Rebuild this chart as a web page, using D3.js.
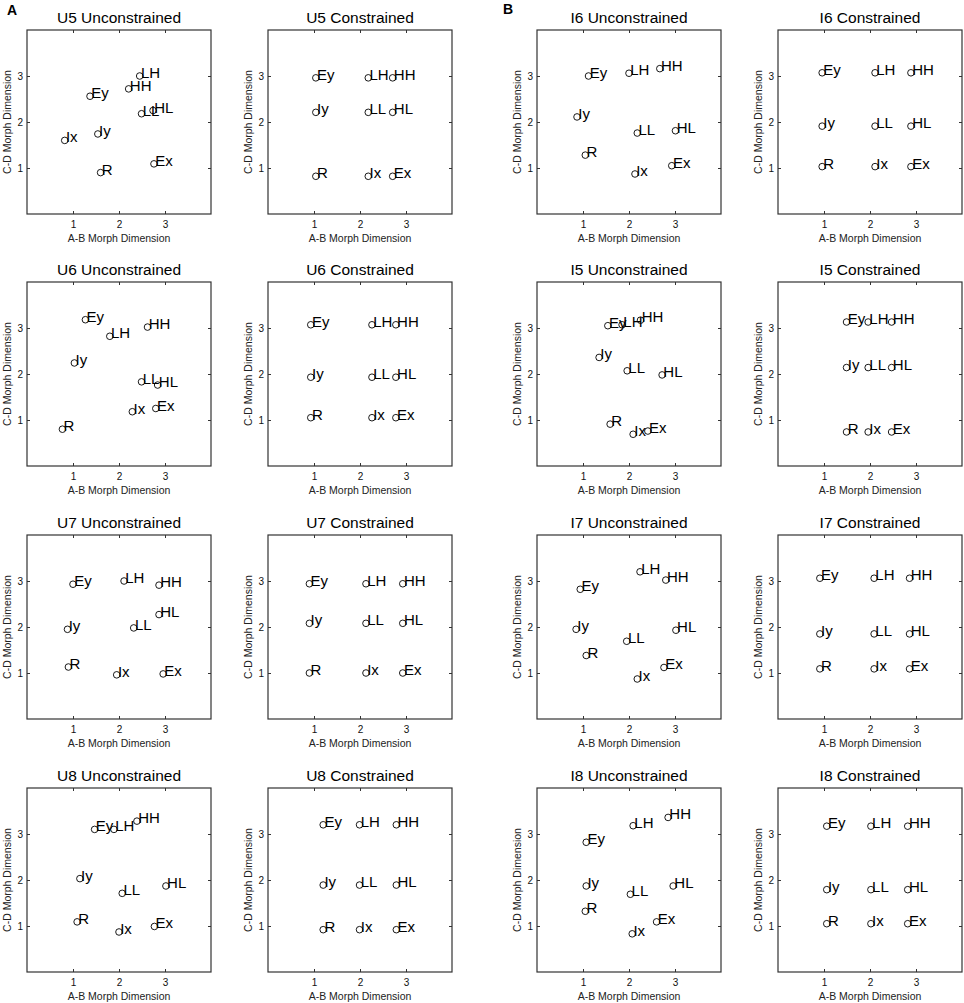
<!doctype html>
<html>
<head>
  <title>Morph Dimension MDS</title>
  <script src="https://d3js.org/d3.v7.min.js" charset="utf-8"></script>
  <style>
    body { margin: 0; background: #fff; }
    text { font-family: "Liberation Sans", Arial, sans-serif; }
  </style>
</head>
<body>
<svg width="964" height="1003"></svg>
<script>
// point labels, same order in every x/y array below
var pointLabels = ["Ey", "LH", "HH", "Iy", "LL", "HL", "R", "Ix", "Ex"];

// panel titles, row by row (left block A, right block B)
var panelTitles = [
  "U5 Unconstrained", "U5 Constrained", "I6 Unconstrained", "I6 Constrained",
  "U6 Unconstrained", "U6 Constrained", "I5 Unconstrained", "I5 Constrained",
  "U7 Unconstrained", "U7 Constrained", "I7 Unconstrained", "I7 Constrained",
  "U8 Unconstrained", "U8 Constrained", "I8 Unconstrained", "I8 Constrained"
];

var tickValues = [1, 2, 3];
var axisDomain = [0, 4];

// A-B coordinates
var u5UncX = [1.37, 2.45, 2.21, 1.54, 2.49, 2.74, 1.60, 0.82, 2.76];
var u5ConX = [1.04, 2.18, 2.71, 1.04, 2.18, 2.71, 1.04, 2.18, 2.71];
var i6UncX = [1.12, 2.00, 2.67, 0.87, 2.18, 3.01, 1.05, 2.13, 2.93];
var i6ConX = [0.96, 2.11, 2.89, 0.96, 2.11, 2.89, 0.96, 2.11, 2.89];
var u6UncX = [1.27, 1.80, 2.62, 1.03, 2.49, 2.84, 0.77, 2.29, 2.80];
var u6ConX = [0.93, 2.26, 2.78, 0.93, 2.26, 2.78, 0.93, 2.26, 2.78];
var i5UncX = [1.54, 1.85, 2.25, 1.35, 1.96, 2.72, 1.59, 2.09, 2.41];
var i5ConX = [1.49, 1.96, 2.47, 1.49, 1.96, 2.47, 1.49, 1.96, 2.47];
var u7UncX = [1.00, 2.11, 2.87, 0.88, 2.32, 2.87, 0.90, 1.95, 2.96];
var u7ConX = [0.90, 2.13, 2.93, 0.90, 2.13, 2.93, 0.90, 2.13, 2.93];
var i7UncX = [0.94, 2.24, 2.80, 0.85, 1.95, 3.02, 1.07, 2.18, 2.76];
var i7ConX = [0.91, 2.09, 2.86, 0.91, 2.09, 2.86, 0.91, 2.09, 2.86];
var u8UncX = [1.47, 1.89, 2.39, 1.15, 2.07, 3.02, 1.09, 2.00, 2.77];
var u8ConX = [1.20, 1.99, 2.79, 1.20, 1.99, 2.79, 1.20, 1.99, 2.79];
var i8UncX = [1.07, 2.09, 2.85, 1.07, 2.03, 2.96, 1.05, 2.07, 2.60];
var i8ConX = [1.06, 2.02, 2.82, 1.06, 2.02, 2.82, 1.06, 2.02, 2.82];

// C-D coordinates
var u5UncY = [2.56, 3.00, 2.72, 1.74, 2.18, 2.25, 0.90, 1.60, 1.09];
var u5ConY = [2.96, 2.96, 2.96, 2.21, 2.21, 2.21, 0.82, 0.82, 0.82];
var i6UncY = [3.00, 3.06, 3.16, 2.11, 1.76, 1.81, 1.28, 0.87, 1.05];
var i6ConY = [3.07, 3.07, 3.07, 1.91, 1.91, 1.91, 1.03, 1.03, 1.03];
var u6UncY = [3.18, 2.82, 3.02, 2.24, 1.83, 1.76, 0.80, 1.18, 1.25];
var u6ConY = [3.07, 3.07, 3.07, 1.93, 1.93, 1.93, 1.05, 1.05, 1.05];
var i5UncY = [3.05, 3.07, 3.17, 2.36, 2.07, 1.98, 0.91, 0.69, 0.76];
var i5ConY = [3.13, 3.13, 3.13, 2.14, 2.14, 2.14, 0.74, 0.74, 0.74];
var u7UncY = [2.93, 3.00, 2.91, 1.95, 1.98, 2.27, 1.13, 0.96, 0.98];
var u7ConY = [2.94, 2.94, 2.94, 2.08, 2.08, 2.08, 1.00, 1.00, 1.00];
var i7UncY = [2.82, 3.20, 3.02, 1.95, 1.69, 1.93, 1.38, 0.87, 1.12];
var i7ConY = [3.06, 3.06, 3.06, 1.85, 1.85, 1.85, 1.09, 1.09, 1.09];
var u8UncY = [3.10, 3.10, 3.28, 2.03, 1.71, 1.87, 1.09, 0.87, 0.99];
var u8ConY = [3.20, 3.20, 3.20, 1.89, 1.89, 1.89, 0.92, 0.92, 0.92];
var i8UncY = [2.82, 3.18, 3.36, 1.87, 1.69, 1.87, 1.32, 0.83, 1.09];
var i8ConY = [3.17, 3.17, 3.17, 1.79, 1.79, 1.79, 1.05, 1.05, 1.05];

var panelX = [u5UncX, u5ConX, i6UncX, i6ConX, u6UncX, u6ConX, i5UncX, i5ConX,
              u7UncX, u7ConX, i7UncX, i7ConX, u8UncX, u8ConX, i8UncX, i8ConX];
var panelY = [u5UncY, u5ConY, i6UncY, i6ConY, u6UncY, u6ConY, i5UncY, i5ConY,
              u7UncY, u7ConY, i7UncY, i7ConY, u8UncY, u8ConY, i8UncY, i8ConY];

var svg = d3.select("svg");

var colLeft = [27, 268, 537, 778],
    rowTop = [30, 282, 535, 788],
    width = 184,
    height = 184;

var x = d3.scaleLinear().domain(axisDomain).range([0, width]),
    y = d3.scaleLinear().domain(axisDomain).range([height, 0]);

var fmt = d3.format("d");

panelTitles.forEach(function(title, i) {
  var col = i % 4, row = Math.floor(i / 4);
  var g = svg.append("g")
      .attr("transform", "translate(" + colLeft[col] + "," + rowTop[row] + ")");

  // inward ticks on all four sides, like a boxed matlab axes
  function styleAxis(sel) {
    sel.select(".domain").remove();
    sel.selectAll(".tick line").attr("stroke", "#333");
    sel.selectAll(".tick text").attr("fill", "#111").style("font-size", "10px");
  }

  g.append("g")
      .attr("transform", "translate(0," + height + ")")
      .call(d3.axisBottom(x).tickValues(tickValues).tickFormat(fmt).tickSize(-3).tickPadding(7))
      .call(styleAxis);
  g.append("g")
      .call(d3.axisTop(x).tickValues(tickValues).tickSize(-3).tickFormat(""))
      .call(styleAxis);
  g.append("g")
      .call(d3.axisLeft(y).tickValues(tickValues).tickFormat(fmt).tickSize(-3).tickPadding(4))
      .call(styleAxis);
  g.append("g")
      .attr("transform", "translate(" + width + ",0)")
      .call(d3.axisRight(y).tickValues(tickValues).tickSize(-3).tickFormat(""))
      .call(styleAxis);

  g.append("rect")
      .attr("width", width)
      .attr("height", height)
      .attr("fill", "none")
      .attr("stroke", "#333")
      .attr("stroke-width", 1.2);

  g.append("text")
      .attr("x", width / 2)
      .attr("y", -7.5)
      .attr("text-anchor", "middle")
      .style("font-size", "15.5px")
      .text(title);

  g.append("text")
      .attr("x", width / 2)
      .attr("y", height + 27.5)
      .attr("text-anchor", "middle")
      .attr("fill", "#222")
      .style("font-size", "10.5px")
      .text("A-B Morph Dimension");

  g.append("text")
      .attr("transform", "translate(-16," + (height / 2) + ") rotate(-90)")
      .attr("text-anchor", "middle")
      .attr("fill", "#222")
      .style("font-size", "10.5px")
      .text("C-D Morph Dimension");

  var pts = pointLabels.map(function(lab, k) {
    return {label: lab, x: panelX[i][k], y: panelY[i][k]};
  });

  g.selectAll(".pt")
    .data(pts)
    .enter().append("circle")
      .attr("class", "pt")
      .attr("cx", function(d) { return x(d.x); })
      .attr("cy", function(d) { return y(d.y); })
      .attr("r", 3.3)
      .attr("fill", "none")
      .attr("stroke", "#000")
      .attr("stroke-width", 0.9);

  g.selectAll(".lab")
    .data(pts)
    .enter().append("text")
      .attr("class", "lab")
      .attr("x", function(d) { return x(d.x) + 1.2; })
      .attr("y", function(d) { return y(d.y) + 2; })
      .style("font-size", "15px")
      .text(function(d) { return d.label; });
});

svg.append("text")
    .attr("x", 7).attr("y", 14.5)
    .style("font-size", "14px").style("font-weight", "bold")
    .text("A");
svg.append("text")
    .attr("x", 503).attr("y", 13.5)
    .style("font-size", "14px").style("font-weight", "bold")
    .text("B");
</script>
</body>
</html>
